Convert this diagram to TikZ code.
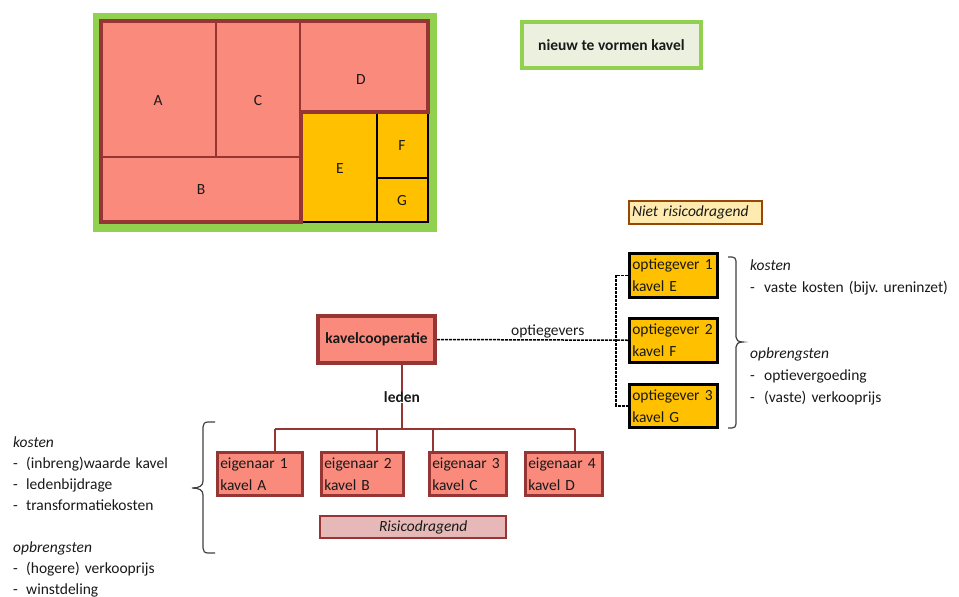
\documentclass[tikz,border=0pt]{standalone}
\usepackage{fontspec}
\setmainfont{Carlito}
\usetikzlibrary{positioning, calc, backgrounds}

\definecolor{kavelred}{RGB}{150,54,52}
\definecolor{kavelsalmon}{RGB}{250,138,124}
\definecolor{kavelyellow}{RGB}{255,192,0}
\definecolor{kavelgreen}{RGB}{146,208,80}
\definecolor{kavelmint}{RGB}{235,241,222}
\definecolor{riskpink}{RGB}{230,184,183}
\definecolor{noriskfill}{RGB}{255,235,175}
\definecolor{noriskbrown}{RGB}{152,72,6}

\newcommand{\itm}[2][13pt]{\makebox[#1][l]{-}#2}
\newcommand{\kfont}{\fontsize{15.5}{22}\selectfont\frenchspacing}

\begin{document}
\begin{tikzpicture} [
    x=1pt, y=-1pt,
    every node/.style={font=\kfont, text=black!90},
    lot/.style={inner sep=0pt},
    owner/.style={rectangle, draw=kavelred, line width=2.5pt, fill=kavelsalmon, anchor=north west, minimum height=43pt, align=left, inner xsep=3pt},
    optee/.style={rectangle, draw=black, line width=2.5pt, fill=kavelyellow, anchor=north west, minimum height=44pt, text width=82pt, align=left, inner xsep=3pt},
    coop/.style={rectangle, draw=kavelred, line width=4pt, fill=kavelsalmon, minimum width=117pt, minimum height=47pt, font=\kfont\bfseries},
    newlot/.style={rectangle, draw=kavelgreen, line width=4pt, fill=kavelmint, minimum width=179pt, minimum height=46pt, font=\kfont\bfseries},
    risk/.style={rectangle, draw=kavelred, line width=2pt, fill=riskpink, anchor=north west, minimum height=22pt, align=left, inner xsep=3pt, font=\kfont\itshape},
    norisk/.style={rectangle, draw=noriskbrown, line width=2pt, fill=noriskfill, anchor=north west, minimum height=23pt, align=left, inner xsep=3pt, font=\kfont\itshape},
    note/.style={anchor=base west, align=left, inner sep=0pt},
    memberline/.style={draw=kavelred, line width=2pt},
    optline/.style={draw=black, line width=1.5pt, dash pattern=on 3pt off 1pt},
    bracket/.style={draw=black!75, line width=1.2pt}
]
\useasboundingbox (0,0) rectangle (959,597);

% Kavel map
\fill[kavelgreen] (93,13) rectangle (437,232);
\fill[kavelsalmon] (101,21) -- (428,21) -- (428,112) -- (301,112) -- (301,222) -- (101,222) -- cycle;
\fill[kavelyellow] (301,112) rectangle (428,222);
\draw[kavelred, line width=2pt] (216,21) -- (216,157) (101,157) -- (301,157) (300,21) -- (300,112);
\draw[black, line width=1.5pt] (377,112) -- (377,222) (377,178) -- (428,178) (428,112) -- (428,222) -- (301,222);
\draw[kavelred, line width=3.5pt] (101,21) -- (428,21) -- (428,112) -- (301,112) -- (301,222) -- (101,222) -- cycle;

\node[lot] (lot_a) at (158,101) {A};
\node[lot] (lot_b) at (201,190) {B};
\node[lot] (lot_c) at (258,101) {C};
\node[lot] (lot_d) at (361,80) {D};
\node[lot] (lot_e) at (340,169) {E};
\node[lot] (lot_f) at (402,146) {F};
\node[lot] (lot_g) at (402,201) {G};

% Legend
\node[newlot] (new_lot) at (611.5,45) {nieuw te vormen kavel};
\node[norisk, text width=127pt] (no_risk) at (628,200) {Niet risicodragend};

% Cooperation and members
\node[coop] (coop) at (376.5,339.5) {kavelcooperatie};
\node[owner, text width=79pt] (owner_1) at (216,451) {eigenaar 1\\kavel A};
\node[owner, text width=76pt] (owner_2) at (320,451) {eigenaar 2\\kavel B};
\node[owner, text width=71pt] (owner_3) at (428,451) {eigenaar 3\\kavel C};
\node[owner, text width=71pt] (owner_4) at (524,451) {eigenaar 4\\kavel D};
\node[risk, text width=180pt] (risk) at (319,515) {\hspace*{56pt}Risicodragend};

% Option givers
\node[optee] (optee_1) at (628,252) {optiegever 1\\kavel E};
\node[optee, below=18.5pt of optee_1] (optee_2) {optiegever 2\\kavel F};
\node[optee, below=19.5pt of optee_2, minimum height=43pt] (optee_3) {optiegever 3\\kavel G};

% Notes
\node[note, text width=190pt, font=\fontsize{15.5}{21.1}\selectfont\frenchspacing] (member_note) at (13,447) {\textit{kosten}\\
    \itm{(inbreng)waarde kavel}\\
    \itm{ledenbijdrage}\\
    \itm{transformatiekosten}\\[21.1pt]
    \textit{opbrengsten}\\
    \itm{(hogere) verkooprijs}\\
    \itm{winstdeling}};
\node[note, text width=230pt] (optee_note) at (750,270) {\textit{kosten}\\
    \itm[14pt]{vaste kosten (bijv. ureninzet)}\\[44pt]
    \textit{opbrengsten}\\
    \itm[14pt]{optievergoeding}\\
    \itm[14pt]{(vaste) verkooprijs}};

% Connectors
\coordinate (split) at (402,429);
\coordinate (drop_1) at (275,429);
\coordinate (drop_2) at (377,429);
\coordinate (drop_3) at (433,429);
\coordinate (drop_4) at (575,429);
\coordinate (fork) at (616,340);

\begin{scope}[on background layer]
    % Members
    \draw[memberline] (coop.south -| split) -- node[fill=white, inner sep=1pt, font=\kfont\bfseries] {leden} (split);
    \draw[memberline] (drop_1) -- (drop_4);
    \foreach \i in {1,...,4}
        \draw[memberline] (drop_\i) -- (drop_\i |- owner_\i.north);

    % Option givers
    \draw[optline] (coop.east) -- node[pos=0.58, above, inner sep=1pt] {optiegevers} (optee_2.west);
    \draw[optline] (optee_1.west) -- (optee_1.west -| fork) -- (optee_3.west -| fork) -- (optee_3.west);
\end{scope}

% Braces
\draw[bracket] (215,422) -- (208,422) .. controls (204.5,422) and (203,424) .. (203,427) -- (203,481)
    .. controls (203,486) and (199,488) .. (192,488) .. controls (199,488) and (203,490) .. (203,495)
    -- (203,548) .. controls (203,551) and (204.5,553) .. (208,553) -- (215,553);
\draw[bracket] (728,257) -- (732,257) .. controls (734.5,257) and (736,258.5) .. (736,261) -- (736,337)
    .. controls (736,340) and (738,342) .. (743,342) .. controls (738,342) and (736,344) .. (736,347)
    -- (736,424) .. controls (736,426.5) and (734.5,428) .. (732,428) -- (728,428);

\end{tikzpicture}
\end{document}
